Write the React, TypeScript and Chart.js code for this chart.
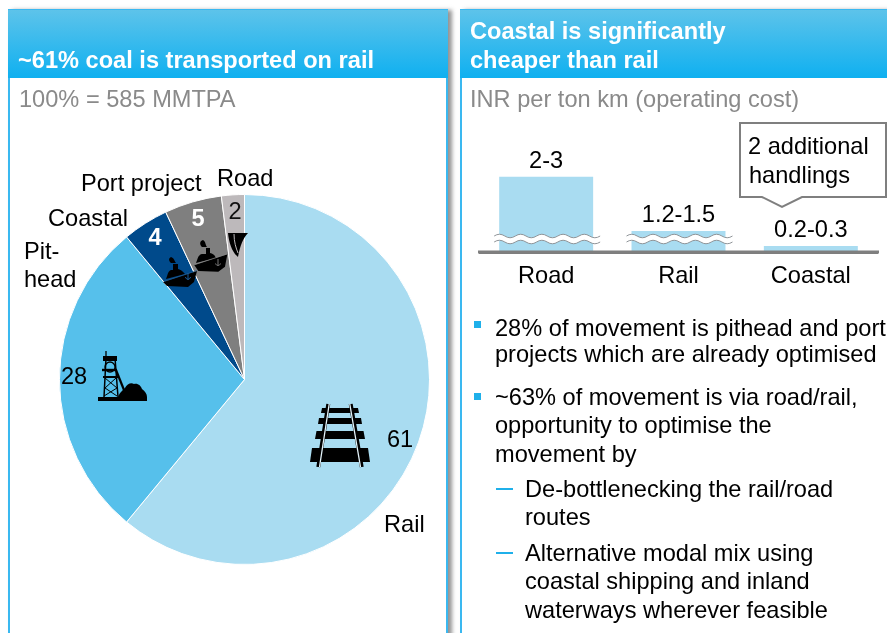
import React, { useEffect, useRef } from "react";
import { Chart, registerables } from "chart.js";

Chart.register(...registerables);

const modes = ["Rail", "Pit-head", "Coastal", "Port project", "Road"];
const modeShares = [61, 28, 4, 5, 2];
const modeColors = ["#a9dcf1", "#56c0eb", "#004a8b", "#7f7f7f", "#bdb9bb"];
const costCategories = ["Road", "Rail", "Coastal"];
const costRanges = ["2-3", "1.2-1.5", "0.2-0.3"];
// The reference axis is broken, so these are the heights as drawn (road and rail carry a break mark).
const drawnCostHeights = [2.5, 0.7, 0.2];
const brokenBars = [true, true, false];

const FONT = '"Liberation Sans", Arial, sans-serif';
const TEXT_SIZE = 23.6;

// label placement relative to the pie centre
const nameSpots: [string, number, number][][] = [
  [["Rail", 139.5, 146]],
  [["Pit-", -220.5, -127], ["head", -220.5, -99]],
  [["Coastal", -196.5, -160]],
  [["Port project", -163.5, -195]],
  [["Road", -27.5, -200]],
];
const valueSpots: [number, number, string, string][] = [
  [155.5, 61, "#000", "400"],
  [-170.5, -2, "#000", "400"],
  [-89.5, -141, "#fff", "700"],
  [-46.5, -160, "#fff", "700"],
  [-9.5, -167, "#111", "400"],
];

const piePlugin = {
  id: "pieText",
  afterDatasetsDraw(chart: any) {
    const { ctx } = chart;
    const arc = chart.getDatasetMeta(0).data[0];
    const cx = arc.x, cy = arc.y;
    ctx.save();
    ctx.textBaseline = "middle";
    ctx.textAlign = "left";
    modes.forEach((_, i) => {
      ctx.font = `400 ${TEXT_SIZE}px ${FONT}`;
      ctx.fillStyle = "#000";
      nameSpots[i].forEach(([t, dx, dy]) => ctx.fillText(t, cx + dx, cy + dy));
      const [dx, dy, color, weight] = valueSpots[i];
      ctx.font = `${weight} ${TEXT_SIZE}px ${FONT}`;
      ctx.fillStyle = color;
      ctx.textAlign = "center";
      ctx.fillText(String(modeShares[i]), cx + dx, cy + dy);
      ctx.textAlign = "left";
    });
    ctx.restore();
  },
};

const WAVE_STEPS = 10;
const WAVE_BEND = 3.5;

function wave(ctx: any, x0: number, x1: number, y: number) {
  const step = (x1 - x0) / WAVE_STEPS;
  ctx.moveTo(x0, y);
  for (let i = 0; i < WAVE_STEPS; i++) {
    const dir = i % 2 === 0 ? -1 : 1;
    ctx.quadraticCurveTo(x0 + step * (i + 0.5), y + dir * WAVE_BEND, x0 + step * (i + 1), y);
  }
}

const barPlugin = {
  id: "barText",
  afterDatasetsDraw(chart: any) {
    const { ctx } = chart;
    const bars = chart.getDatasetMeta(0).data;
    const xs = chart.scales.x;
    const base = xs.top;
    ctx.save();
    ctx.fillStyle = "#7f7f7f";
    ctx.fillRect(xs.left - 2, base - 1.5, xs.right - xs.left + 4, 3);
    bars.forEach((b: any, i: number) => {
      if (brokenBars[i]) {
        const x0 = b.x - 52, x1 = b.x + 54;
        const top = base - 16, gap = 6;
        ctx.beginPath();
        wave(ctx, x0, x1, top);
        ctx.lineTo(x1, top + gap);
        const step = (x1 - x0) / WAVE_STEPS;
        for (let k = WAVE_STEPS - 1; k >= 0; k--) {
          const dir = k % 2 === 0 ? -1 : 1;
          ctx.quadraticCurveTo(x0 + step * (k + 0.5), top + gap + dir * WAVE_BEND, x0 + step * k, top + gap);
        }
        ctx.closePath();
        ctx.fillStyle = "#fff";
        ctx.fill();
        ctx.beginPath();
        wave(ctx, x0, x1, top);
        wave(ctx, x0, x1, top + gap);
        ctx.strokeStyle = "#8f9498";
        ctx.lineWidth = 1;
        ctx.stroke();
      }
      ctx.font = `400 ${TEXT_SIZE}px ${FONT}`;
      ctx.fillStyle = "#000";
      ctx.textAlign = "center";
      ctx.textBaseline = "middle";
      ctx.fillText(costRanges[i], b.x, b.y - 15);
    });
    ctx.restore();
  },
};

const txt = (left: number, top: number, s: string, extra: any = {}) => (
  <div
    style={{
      position: "absolute",
      left,
      top,
      transform: "translateY(-50%)",
      whiteSpace: "nowrap",
      font: `400 ${TEXT_SIZE}px ${FONT}`,
      color: "#000",
      lineHeight: "26px",
      ...extra,
    }}
  >
    {s}
  </div>
);

const Panel = ({ left, width }: { left: number; width: number }) => (
  <>
    <div
      style={{
        position: "absolute",
        left,
        top: 9,
        width,
        height: 640,
        boxSizing: "border-box",
        border: "2px solid #3ab8f0",
        background: "#fff",
        boxShadow: "4px 1px 4px rgba(90,90,90,.65)",
      }}
    />
    <div
      style={{
        position: "absolute",
        left,
        top: 9,
        width,
        height: 69,
        boxSizing: "border-box",
        background: "linear-gradient(#5dc3ea, #0fb0f0)",
        borderTop: "1px solid #3ab8f0",
      }}
    />
  </>
);

export default function App() {
  const pieRef = useRef<HTMLCanvasElement>(null);
  const barRef = useRef<HTMLCanvasElement>(null);

  useEffect(() => {
    document.body.style.margin = "0";
    const pie = new Chart(pieRef.current!, {
      type: "pie",
      data: {
        labels: modes,
        datasets: [{ data: modeShares, backgroundColor: modeColors, borderColor: "#fff", borderWidth: 1 }],
      },
      options: {
        animation: false,
        responsive: false,
        layout: { padding: { left: 48.5, right: 15.5, top: 114, bottom: 68 } },
        plugins: { legend: { display: false }, tooltip: { enabled: false } },
      },
      plugins: [piePlugin],
    });
    const bar = new Chart(barRef.current!, {
      type: "bar",
      data: {
        labels: costCategories,
        datasets: [
          {
            data: drawnCostHeights,
            backgroundColor: "#a9dcf1",
            barPercentage: 0.71,
            categoryPercentage: 1,
          },
        ],
      },
      options: {
        animation: false,
        responsive: false,
        layout: { padding: { left: 10, right: 10, top: 31.6, bottom: 0 } },
        plugins: { legend: { display: false }, tooltip: { enabled: false } },
        scales: {
          x: {
            afterFit(s: any) {
              s.height = 48;
            },
            grid: { display: false, drawTicks: false },
            border: { display: true, color: "#7f7f7f", width: 3 },
            ticks: { color: "#000", font: { family: FONT, size: TEXT_SIZE }, padding: 10, maxRotation: 0 },
          },
          y: { display: false, min: 0, max: 3 },
        },
      },
      plugins: [barPlugin],
    });
    return () => {
      pie.destroy();
      bar.destroy();
    };
  }, []);

  const square = (top: number) => (
    <div style={{ position: "absolute", left: 474, top, width: 7, height: 7, background: "#1fb0ea" }} />
  );
  const dash = (top: number) => (
    <div style={{ position: "absolute", left: 496, top, width: 17, height: 2, background: "#1fb0ea" }} />
  );

  return (
    <div style={{ position: "fixed", left: 0, top: 0, width: 887, height: 633, overflow: "hidden", background: "#fff" }}>
      <Panel left={8} width={440} />
      <Panel left={460} width={470} />

      <canvas ref={pieRef} width={436} height={553} style={{ position: "absolute", left: 10, top: 80, width: 436, height: 553 }} />
      <canvas ref={barRef} width={417} height={170} style={{ position: "absolute", left: 470, top: 130, width: 417, height: 170 }} />

      <svg width={887} height={633} style={{ position: "absolute", left: 0, top: 0 }}>
        {/* rail */}
        <g fill="#000">
          <path d="M322 408H358L359 413H321Z" />
          <path d="M319 418H361L362 424H318Z" />
          <path d="M316.5 431H363.5L365 439H315Z" />
          <path d="M312 448H368L370 462H310Z" />
          <path d="M328.3 404L318.3 467M350.7 404L361.7 467" stroke="#000" strokeWidth={4} />
          <path d="M329.2 404L319.5 467M349.8 404L360.5 467" stroke="#e4f4fb" strokeWidth={1.3} />
        </g>
        {/* mine */}
        <g fill="none" stroke="#000" strokeWidth={1.3}>
          <path d="M98 399H147" strokeWidth={4} />
          <path d="M106 358L104 397M115 358L118 397" strokeWidth={1.5} />
          <path d="M103 358.5H117" strokeWidth={5} />
          <path d="M106 351V356" />
          <path d="M102 370H117" strokeWidth={2.4} />
          <path d="M103 377H118" strokeWidth={2} />
          <path d="M105 378L117 388L104 396M116 378L105 388L117 396" strokeWidth={1} />
          <path d="M116 370L126 395" strokeWidth={2.2} />
          <circle cx={110} cy={367} r={5} />
          <path d="M118 397C120 392 123 390 125 388C127 384 131 382 134 384C138 383 141 386 142 389C145 391 147 394 147 397Z" fill="#000" stroke="none" />
        </g>
        {/* ships */}
        <g fill="#000">
          <path d="M194.3 265L227.3 254.3L225 266.7L218.3 271.7L198.3 271Z" />
          <path d="M196 263C198 258 198 255 202 254H206V248H210V253C214 254 215 256 216 258Z" />
          <path d="M202 247C199 244 200 241 203 240C206 242 205 244 207 247Z" />
          <path d="M163 282L197 271L194 282L188 287L167 286Z" />
          <path d="M166 279C168 274 168 271 171 270H173V264H178V269C182 270 183 272 185 274Z" />
          <path d="M171 263C168 260 169 258 171 257C174 258 174 260 176 263Z" />
          <path d="M228 233H248C243 238 240 246 238 257C232 252 229 243 228 233Z" />
        </g>
        <path d="M195 264.5L227 254" stroke="#8a8a8a" strokeWidth={0.7} fill="none" />
        <path d="M164 281.5L197 270.5" stroke="#2a5f90" strokeWidth={0.7} fill="none" />
        <path d="M234 234C234 242 236 248 238 253" stroke="#bdb9bb" strokeWidth={1} fill="none" />
        <path d="M218 259V266M215.5 263.5C216 266 220 266 220.5 263.5" stroke="#777" strokeWidth={1} fill="none" />
        <path d="M188 273V280M185.5 277C186 280 190 280 190.5 277" stroke="#1d5f9c" strokeWidth={1} fill="none" />
        {/* callout */}
        <path d="M740 123H886V197H802L782 207L762 197H740Z" fill="#fff" stroke="#7f7f7f" strokeWidth={2} />
      </svg>

      {/* headers */}
      {txt(18, 60, "~61% coal is transported on rail", { color: "#fff", fontWeight: 700 })}
      {txt(470, 31, "Coastal is significantly", { color: "#fff", fontWeight: 700 })}
      {txt(470, 60, "cheaper than rail", { color: "#fff", fontWeight: 700 })}
      {txt(19, 99, "100% = 585 MMTPA", { color: "#8a8a8a" })}
      {txt(470, 99, "INR per ton km (operating cost)", { color: "#8a8a8a" })}

      {/* callout text */}
      {txt(748, 146, "2 additional")}
      {txt(749, 175, "handlings")}

      {/* bullets */}
      {square(321)}
      {txt(495, 328, "28% of movement is pithead and port")}
      {txt(495, 354, "projects which are already optimised")}
      {square(393)}
      {txt(495, 397, "~63% of movement is via road/rail,")}
      {txt(495, 425, "opportunity to optimise the")}
      {txt(495, 454, "movement by")}
      {dash(488)}
      {txt(525, 489, "De-bottlenecking the rail/road")}
      {txt(525, 517, "routes")}
      {dash(552)}
      {txt(525, 553, "Alternative modal mix using")}
      {txt(525, 581, "coastal shipping and inland")}
      {txt(525, 610, "waterways wherever feasible")}
    </div>
  );
}
